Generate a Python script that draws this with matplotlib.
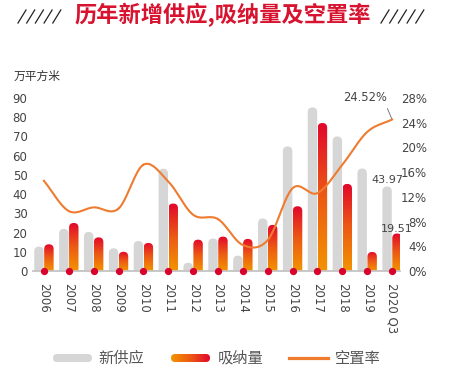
import numpy as np
import matplotlib
matplotlib.use("Agg")
import matplotlib.pyplot as plt
from matplotlib.patches import FancyBboxPatch
from matplotlib.colors import LinearSegmentedColormap

plt.rcParams["font.family"] = ["DejaVu Sans", "Noto Sans CJK SC"]

years = ["2006", "2007", "2008", "2009", "2010", "2011", "2012", "2013",
         "2014", "2015", "2016", "2017", "2018", "2019", "2020 Q3"]
supply = [12.7, 21.9, 20.3, 11.8, 15.6, 53.2, 4.3, 16.9, 8.0, 27.3, 64.8, 85.1, 70.0, 53.3, 43.97]
absorb = [13.9, 25.0, 17.5, 10.0, 14.6, 35.1, 16.3, 17.9, 16.7, 24.0, 33.7, 77.0, 45.3, 9.9, 19.51]
vacancy = [14.6, 9.7, 10.3, 10.1, 17.2, 14.5, 9.1, 8.4, 4.2, 5.0, 13.4, 12.6, 17.2, 22.5, 24.52]

GRAY = "#d6d6d6"
LINE = "#ef7b2f"
cmap = LinearSegmentedColormap.from_list("oran", ["#f39400", "#ec5a14", "#e2062c"])


def smooth(xs, ys, n=24):
    # catmull-rom curve through the points (just for drawing the smooth line)
    xs = np.asarray(xs, float)
    ys = np.asarray(ys, float)
    px = np.concatenate([[2 * xs[0] - xs[1]], xs, [2 * xs[-1] - xs[-2]]])
    py = np.concatenate([[2 * ys[0] - ys[1]], ys, [2 * ys[-1] - ys[-2]]])
    t = np.linspace(0, 1, n)
    outx, outy = [], []
    for i in range(1, len(px) - 2):
        for p, out in ((px, outx), (py, outy)):
            p0, p1, p2, p3 = p[i - 1], p[i], p[i + 1], p[i + 2]
            out.extend(0.5 * (2 * p1 + (-p0 + p2) * t + (2 * p0 - 5 * p1 + 4 * p2 - p3) * t ** 2
                              + (-p0 + 3 * p1 - 3 * p2 + p3) * t ** 3))
    return np.array(outx), np.array(outy)


W, H = 449, 371
fig = plt.figure(figsize=(W / 100, H / 100), dpi=100)

deco = fig.add_axes([0, 0, 1, 1])
deco.set_xlim(0, W)
deco.set_ylim(H, 0)
deco.axis("off")
deco.patch.set_alpha(0)

left, right, top, bottom = 33, 400, 98, 271
ax = fig.add_axes([left / W, 1 - bottom / H, (right - left) / W, (bottom - top) / H])
ax.patch.set_alpha(0)
ax2 = ax.twinx()

x = np.arange(len(years))
xlim = (-0.44, 14.32)
ax.set_xlim(*xlim)
ax.set_ylim(0, 90)
ax2.set_ylim(0, 28)

aspect = (90 / (bottom - top)) / ((xlim[1] - xlim[0]) / (right - left))
w = 0.38
grad = np.linspace(0, 1, 256).reshape(-1, 1)

for i in x:
    g = FancyBboxPatch((i - 0.2 - w / 2, -10), w, supply[i] + 10,
                       boxstyle=f"round,pad=0,rounding_size={w / 2}",
                       mutation_aspect=aspect, fc=GRAY, ec="none", zorder=2)
    ax.add_patch(g)
    x0 = i + 0.2 - w / 2
    o = FancyBboxPatch((x0, -10), w, absorb[i] + 10,
                       boxstyle=f"round,pad=0,rounding_size={w / 2}",
                       mutation_aspect=aspect, fc="none", ec="none", zorder=2)
    ax.add_patch(o)
    im = ax.imshow(grad, extent=(x0, x0 + w, 0, absorb[i]), origin="lower",
                   cmap=cmap, aspect="auto", zorder=2)
    im.set_clip_path(o)

ax.set_xlim(*xlim)
ax.set_ylim(0, 90)
ax.axhline(0, color="#c4c4c4", lw=1.3, zorder=3, clip_on=False)

sx, sy = smooth(x, vacancy)
ax2.plot(sx, sy, color=LINE, lw=1.5, zorder=4)
ax2.plot(x, np.zeros(len(x)), "o", color="#d9022c", ms=4.2, clip_on=False, zorder=5)

for a in (ax, ax2):
    for s in a.spines.values():
        s.set_visible(False)

ax.set_yticks(range(0, 91, 10))
ax.set_xticks(x)
ax.set_xticklabels(years, rotation=-90)
ax.tick_params(axis="y", length=0, labelsize=8.5, labelcolor="#444444", pad=4)
ax.tick_params(axis="x", length=0, labelsize=8.5, labelcolor="#444444", pad=8.5)

ax2.set_yticks(range(0, 29, 4))
ax2.set_yticklabels([f"{v}%" for v in range(0, 29, 4)])
ax2.tick_params(axis="y", length=0, labelsize=8.5, labelcolor="#444444", pad=19.4)
for lab in ax2.get_yticklabels():
    lab.set_horizontalalignment("right")

ax2.annotate(f"{vacancy[-1]:.2f}%", xy=(x[-1], vacancy[-1]), xytext=(-3.6, 15.5),
             textcoords="offset points", ha="right", va="center", fontsize=8.3, color="#444444",
             arrowprops=dict(arrowstyle="-", color="#666666", lw=0.6, shrinkA=1, shrinkB=0,
                             relpos=(0.97, 0.0)))
ax.annotate(f"{supply[-1]:.2f}", xy=(x[-1] - 0.2, supply[-1]), xytext=(0, 2.5),
            textcoords="offset points", ha="center", va="baseline", fontsize=8, color="#444444")
ax.annotate(f"{absorb[-1]:.2f}", xy=(x[-1] + 0.2, absorb[-1]), xytext=(0, 1),
            textcoords="offset points", ha="center", va="baseline", fontsize=8, color="#444444")

# title and decorations
deco.text(222.5, 15, "历年新增供应,吸纳量及空置率", ha="center", va="center", fontsize=16,
          weight="bold", color="#d7132f", family=["Noto Sans CJK SC"])
for k in range(5):
    deco.plot([18 + k * 8.7, 26 + k * 8.7], [23, 10], color="#222222", lw=0.9)
    deco.plot([381 + k * 8.7, 389 + k * 8.7], [23, 10], color="#222222", lw=0.9)
deco.text(14, 76, "万平方米", ha="left", va="center", fontsize=8.5, color="#333333",
          family=["Noto Sans CJK SC"])

# legend
ly = 358
deco.add_patch(FancyBboxPatch((53, ly - 4), 39, 8, boxstyle="round,pad=0,rounding_size=4",
                              fc=GRAY, ec="none"))
pill = FancyBboxPatch((171, ly - 4), 39, 8, boxstyle="round,pad=0,rounding_size=4",
                      fc="none", ec="none")
deco.add_patch(pill)
lim = deco.imshow(np.linspace(0, 1, 256).reshape(1, -1), extent=(171, 210, ly + 4, ly - 4),
                  cmap=cmap, aspect="auto")
lim.set_clip_path(pill)
deco.plot([289, 328], [ly, ly], color=LINE, lw=2.3)
for tx, lab in ((98, "新供应"), (218, "吸纳量"), (335, "空置率")):
    deco.text(tx, ly, lab, ha="left", va="center", fontsize=11, color="#555555",
              family=["Noto Sans CJK SC"])
deco.set_xlim(0, W)
deco.set_ylim(H, 0)

fig.savefig("out.png", dpi=100)
